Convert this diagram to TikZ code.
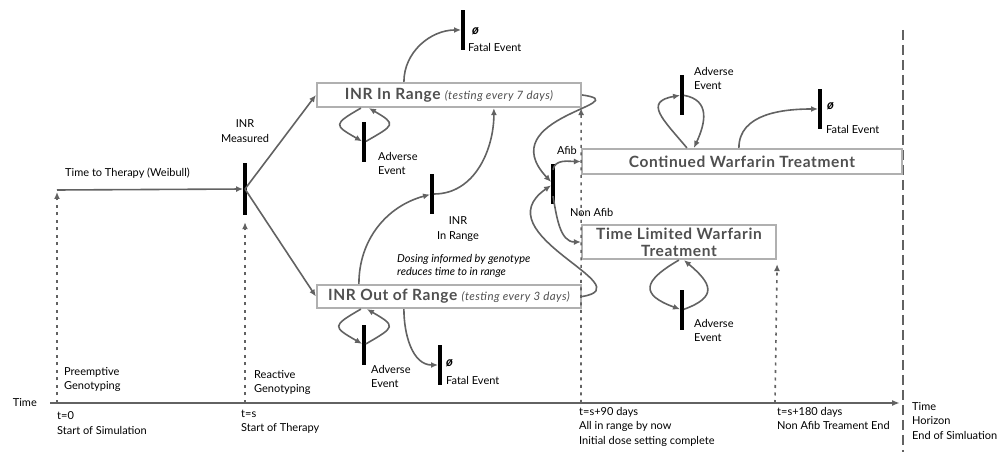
\documentclass[tikz,border=0pt]{standalone}
\usepackage{fontspec}
\setmainfont{Lato}
\newfontfamily\boxfont{Lato}[LetterSpace=4]
\usepackage{tikz}
\usetikzlibrary{arrows.meta,positioning}

\definecolor{linegray}{HTML}{626262}
\definecolor{boxgray}{HTML}{B0B0B0}
\definecolor{textgray}{HTML}{505050}

\begin{document}
\begin{tikzpicture}[x=1pt,y=1pt,
  flow/.style={draw=linegray,line width=1.6pt,-{Latex[length=7pt,width=6pt]}},
  dotarrow/.style={draw=linegray,line width=1.6pt,dash pattern=on 3pt off 4.5pt,-{Latex[length=7pt,width=6pt]}},
  statebox/.style={draw=boxgray,line width=2.2pt,fill=white,text=textgray,inner sep=0pt,
    font=\boxfont\bfseries\fontsize{15.5}{17}\selectfont,minimum height=24pt},
  evbar/.style={fill=black,inner sep=0pt,minimum width=3.5pt,minimum height=40pt},
  lbl/.style={font=\fontsize{11}{14.5}\selectfont,align=left,inner sep=0pt},
  note/.style={font=\itshape\fontsize{11}{13.5}\selectfont,align=left,inner sep=0pt},
  nullsym/.style={font=\bfseries\itshape\fontsize{13}{14}\selectfont,inner sep=0pt}]
  \useasboundingbox (0,0) rectangle (999,452);
  % time axis and horizon
  \coordinate (axs) at (50,49);
  \coordinate (axe) at (900,49);
  \coordinate (htop) at (903,422);
  \coordinate (hbot) at (903,0);
  \coordinate (tzero) at (57,49);
  \coordinate (ts) at (245,49);
  \coordinate (t90) at (581,49);
  \coordinate (t180) at (775,49);
  \coordinate (therapy) at (57,262);
  \draw[draw=linegray,line width=1.8pt,-{Latex[length=8pt,width=6pt]}] (axs) -- (axe);
  \draw[draw=linegray,line width=2pt,dash pattern=on 10pt off 5pt] (htop) -- (hbot);
  \node[lbl,anchor=base east] (timelbl) at (37,45) {Time};
  \node[lbl,anchor=north west] (horlbl) at (912,50.2) {Time\\Horizon\\End of Simluation};
  \node[lbl,anchor=north west] (t0lbl) at (57,40.2) {t=0\\Start of Simulation};
  \node[lbl,anchor=north west] (tslbl) at (241,42.2) {t=s\\Start of Therapy};
  \node[lbl,anchor=north west] (t90lbl) at (579,45.2) {t=s+90 days\\All in range by now\\Initial dose setting complete};
  \node[lbl,anchor=north west] (t180lbl) at (777,45.2) {t=s+180 days\\Non Afib Treament End};
  % states
  \node[statebox,minimum width=264pt] (ir) at (449,357)
    {INR In Range {\mdseries\itshape\fontsize{11.5}{13}\selectfont (testing every 7 days)}};
  \node[statebox,minimum width=264pt,minimum height=23pt] (or) at (449,155.5)
    {INR Out of Range {\mdseries\itshape\fontsize{11.5}{13}\selectfont (testing every 3 days)}};
  \node[statebox,minimum width=320pt,minimum height=25pt] (cw) at (742,290.5) {Continued Warfarin Treatment};
  \node[statebox,minimum width=194pt,minimum height=34pt,align=center] (tl) at (679,210) {Time Limited Warfarin\\Treatment};
  % events
  \node[evbar,minimum height=52pt] (meas) at (245,263) {};
  \node[evbar] (irF) at (463,422) {};
  \node[evbar] (irA) at (364,309.5) {};
  \node[evbar] (irT) at (432,258) {};
  \node[evbar] (orA) at (364,107) {};
  \node[evbar] (orF) at (440,87) {};
  \node[evbar] (afib) at (553,268) {};
  \node[evbar] (cwA) at (682,357) {};
  \node[evbar] (cwF) at (820,343) {};
  \node[evbar] (tlA) at (682,142) {};
  % event labels
  \node[lbl,align=center,anchor=north] (measlbl) at (245,332.2) {INR\\Measured};
  \node[lbl,anchor=base] (ttlbl) at (127.5,275) {Time to Therapy (Weibull)};
  \node[lbl,anchor=north west] (prelbl) at (64,85.2) {Preemptive\\Genotyping};
  \node[lbl,anchor=north west] (reclbl) at (254,82.2) {Reactive\\Genotyping};
  \node[nullsym,anchor=base west] (irFsym) at (472,417) {ø};
  \node[lbl,anchor=base west] (irFlbl) at (468,400) {Fatal Event};
  \node[lbl,anchor=north west] (irAlbl) at (378,300.2) {Adverse\\Event};
  \node[lbl,align=center,anchor=north] (irTlbl) at (458,235.2) {INR\\In Range};
  \node[note,anchor=north west] (dosing) at (397,198.2) {Dosing informed by genotype\\reduces time to in range};
  \node[lbl,anchor=north west] (orAlbl) at (371,87.2) {Adverse\\Event};
  \node[nullsym,anchor=base west] (orFsym) at (446,85) {ø};
  \node[lbl,anchor=base west] (orFlbl) at (446,67) {Fatal Event};
  \node[lbl,anchor=base west] (afiblbl) at (557,297) {Afib};
  \node[lbl,anchor=base west] (nonlbl) at (570,235) {Non Afib};
  \node[lbl,anchor=north west] (cwAlbl) at (694,385.2) {Adverse\\Event};
  \node[nullsym,anchor=base west] (cwFsym) at (827,342) {ø};
  \node[lbl,anchor=base west] (cwFlbl) at (826,318) {Fatal Event};
  \node[lbl,anchor=north west] (tlAlbl) at (694,133.2) {Adverse\\Event};
  % genotyping and time marks
  \draw[dotarrow] (tzero) -- ([yshift=-2]therapy);
  \draw[dotarrow] (ts) -- ([yshift=-7]meas.south);
  \draw[dotarrow] (t90) -- ([xshift=-1]ir.south east);
  \draw[dotarrow] (t180) -- ([yshift=-4]tl.south east);
  % flows
  \draw[flow] (therapy) -- (meas);
  \draw[flow] (meas.center) -- (ir.west);
  \draw[flow] (meas.center) -- (or.west);
  \draw[flow] ([xshift=88]ir.north west) to[out=90,in=180] (irF);
  \draw[flow] ([xshift=45]ir.south west) to[out=210,in=150,looseness=2.5] (irA);
  \draw[flow] (irA) to[out=30,in=-30,looseness=2.5] ([xshift=53]ir.south west);
  \draw[flow] ([xshift=43]or.north west) to[out=90,in=195] (irT);
  \draw[flow] (irT) to[out=0,in=-90] ([xshift=178]ir.south west);
  \draw[flow] ([xshift=45]or.south west) to[out=210,in=150,looseness=2.5] (orA);
  \draw[flow] (orA) to[out=30,in=-30,looseness=2.5] ([xshift=51]or.south west);
  \draw[flow] ([xshift=88]or.south west) to[out=-90,in=180] (orF);
  \draw[flow] (ir.east) .. controls +(58,-8) and +(-63,67) .. (afib);
  \draw[flow] (or.east) .. controls +(63,10) and +(-72,-50) .. (afib);
  \draw[flow] ([yshift=-6]afib.north) to[out=80,in=180] (cw.west);
  \draw[flow] ([yshift=8]afib.south) to[out=-80,in=180] (tl.west);
  \draw[flow] ([xshift=106]cw.north west) to[out=130,in=190,looseness=1.8] (cwA);
  \draw[flow] (cwA) to[out=-10,in=65,looseness=1.3] ([xshift=113]cw.north west);
  \draw[flow] ([xshift=158]cw.north west) to[out=90,in=180] (cwF);
  \draw[flow] ([xshift=98]tl.south west) to[out=210,in=160,looseness=2.2] (tlA);
  \draw[flow] (tlA) to[out=20,in=-40,looseness=1.9] ([xshift=103]tl.south west);
\end{tikzpicture}
\end{document}
